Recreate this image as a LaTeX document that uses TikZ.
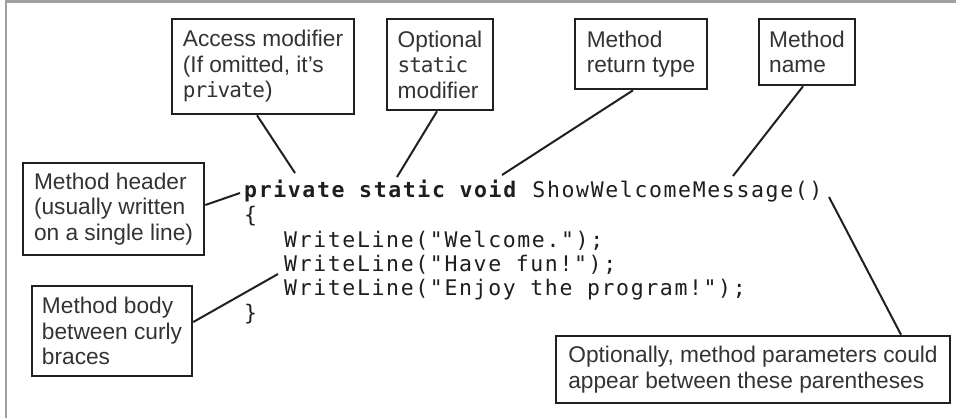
\documentclass[tikz,border=0pt]{standalone}
\usepackage{fontspec}
\setmainfont{Liberation Sans}
\newfontfamily\codefont[LetterSpace=7.6]{DejaVu Sans Mono}
\newfontfamily\lblmono[LetterSpace=-5]{DejaVu Sans Mono}
\usetikzlibrary{calc}
\definecolor{boxc}{HTML}{231F20}
\definecolor{txtc}{HTML}{333333}
\definecolor{codec}{HTML}{1E1E1E}
\definecolor{framec}{HTML}{A0A0A0}
\newcommand\cmono[1]{{\lblmono\fontsize{21}{25.5}\selectfont #1}}
\begin{document}
\begin{tikzpicture}[x=1pt,y=-1pt,
  lbl/.style={draw=boxc, fill=white, line width=2.6pt, text=txtc,
    font=\fontsize{22.7}{25.5}\selectfont, align=left, inner sep=0pt},
  conn/.style={draw=boxc, line width=2pt},
  code/.style={anchor=base west, inner sep=0pt,
    font={\codefont\fontsize{21.5}{24}\selectfont}, text=codec}]
\useasboundingbox (0,0) rectangle (956,418);
\fill[white] (0,0) rectangle (956,418);
\draw[framec, line width=2.5pt] (6,418) -- (6,1.5) -- (956,1.5);

% label boxes
\node[lbl, minimum width=182pt, minimum height=95pt] (acc) at (263,66.5)
  {Access modifier\\(If omitted, it’s\\\cmono{private})};
\node[lbl, minimum width=106pt, minimum height=91pt] (opt) at (440,64.5)
  {Optional\\\cmono{static}\\modifier};
\node[lbl, minimum width=132pt, minimum height=70pt] (ret) at (641,54)
  {Method\\return type};
\node[lbl, minimum width=96pt, minimum height=66pt] (name) at (807,52)
  {Method\\name};
\node[lbl, minimum width=181pt, minimum height=92pt] (hdr) at (113.5,209)
  {Method header\\(usually written\\on a single line)};
\node[lbl, minimum width=160pt, minimum height=90pt] (body) at (112,331)
  {Method body\\between curly\\braces};
\node[lbl, minimum width=394pt, minimum height=67pt] (par) at (753,369.5)
  {Optionally, method parameters could\\appear between these parentheses};

% code
\node[code] (c0) at (244,197.5) {\textbf{private static void} ShowWelcomeMessage()};
\node[code] (c1) at (244,222) {\{};
\node[code] (c2) at (284,247) {WriteLine("Welcome.");};
\node[code] (c3) at (284,271) {WriteLine("Have fun!");};
\node[code] (c4) at (284,295) {WriteLine("Enjoy the program!");};
\node[code] (c5) at (244,320) {\}};

% connector end points in the code
\coordinate (pAcc) at (295,173);
\coordinate (pOpt) at (397,177);
\coordinate (pRet) at (502,175);
\coordinate (pName) at (733,176);
\coordinate (pHdr) at (240,193);
\coordinate (pBody) at (278,274);
\coordinate (pPar) at (829,197);

\draw[conn] ([xshift=-6pt]acc.south) -- (pAcc);
\draw[conn] ([xshift=-3pt]opt.south) -- (pOpt);
\draw[conn] ([xshift=-8pt]ret.south) -- (pRet);
\draw[conn] ([xshift=-4pt]name.south) -- (pName);
\draw[conn] ([yshift=4pt]hdr.east) -- (pHdr);
\draw[conn] ([yshift=9pt]body.east) -- (pBody);
\draw[conn] (pPar) -- ([xshift=148pt]par.north);
\end{tikzpicture}
\end{document}
